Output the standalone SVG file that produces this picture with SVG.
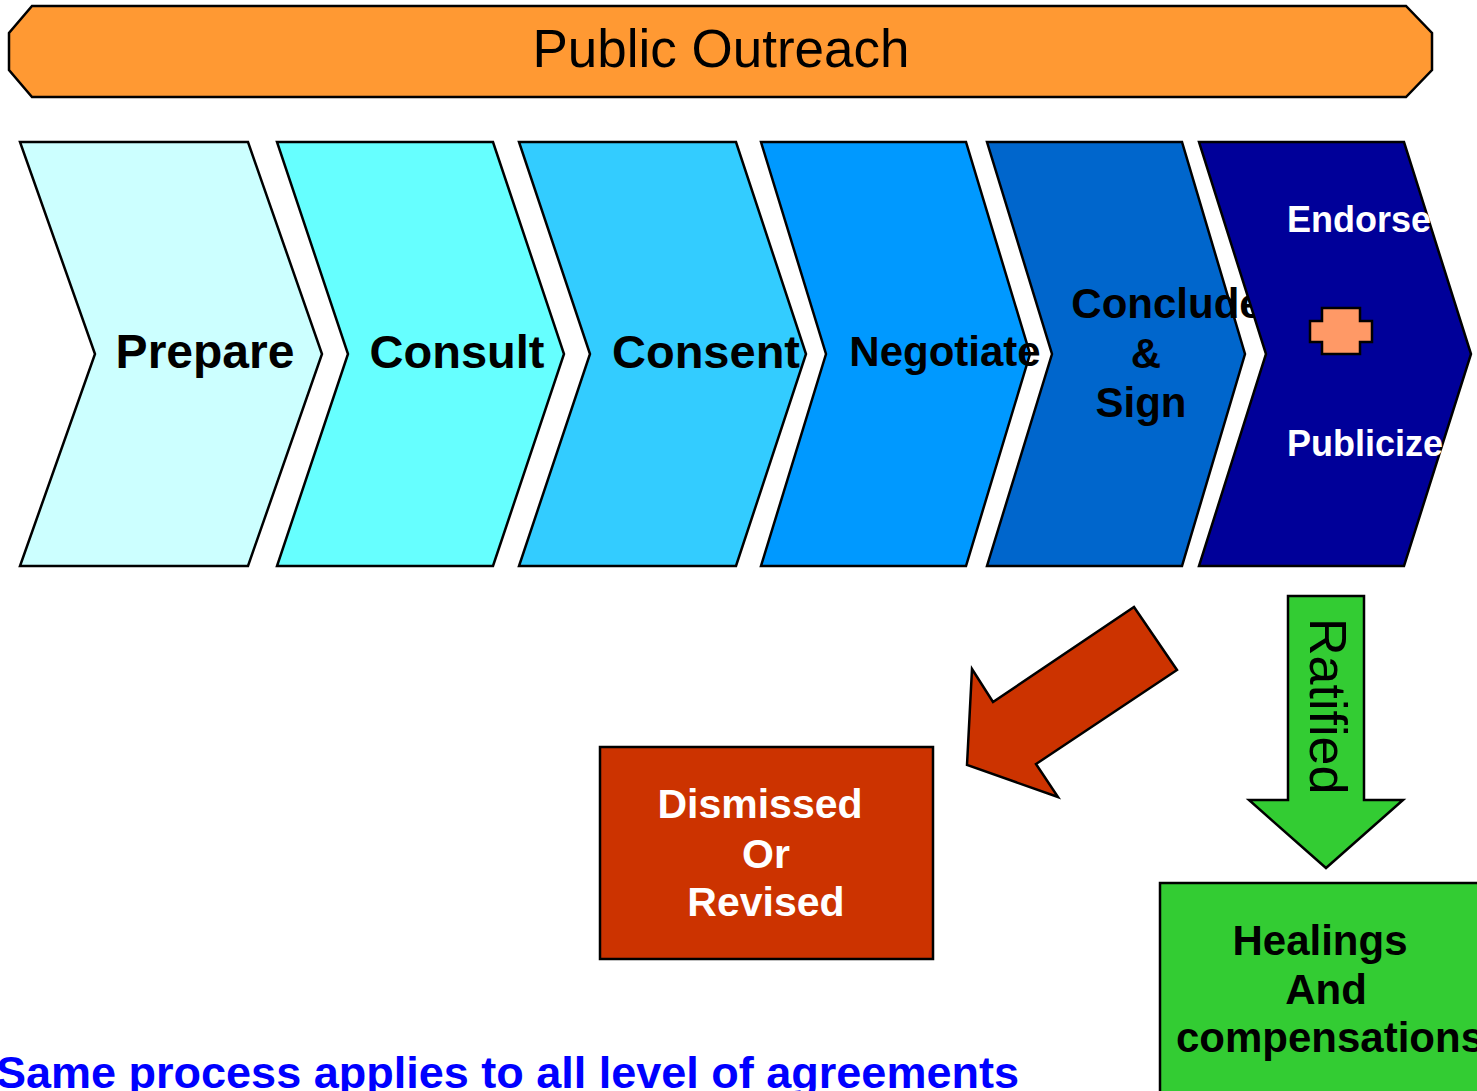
<svg xmlns="http://www.w3.org/2000/svg" width="1477" height="1091" viewBox="0 0 1477 1091">
<style>
.s{stroke:#000;stroke-width:2.5;stroke-linejoin:miter}
.b{font-family:"Liberation Sans",Arial,sans-serif;font-weight:bold}
.n{font-family:"Liberation Sans",Arial,sans-serif}
</style>
<rect width="1477" height="1091" fill="#fff"/>
<g id="banner">
<polygon class="s" fill="#FF9933" points="32,6 1406,6 1432,33 1432,70 1406,97 32,97 9,70 9,33"/>
<text class="n" x="721" y="67" font-size="53" text-anchor="middle">Public Outreach</text>
</g>
<g id="prepare">
<polygon class="s" fill="#CCFFFF" points="20,142 248,142 322,354 248,566 20,566 95,354"/>
<text class="b" x="205" y="368" font-size="48" text-anchor="middle">Prepare</text>
</g>
<g id="consult">
<polygon class="s" fill="#66FFFF" points="277,142 493,142 564,354 493,566 277,566 348,354"/>
<text class="b" x="457" y="368" font-size="47" text-anchor="middle">Consult</text>
</g>
<g id="consent">
<polygon class="s" fill="#33CCFF" points="519,142 736,142 806,354 736,566 519,566 590,354"/>
<text class="b" x="706" y="368" font-size="47" text-anchor="middle">Consent</text>
</g>
<g id="negotiate">
<polygon class="s" fill="#0099FF" points="761,142 966,142 1030,354 966,566 761,566 826,354"/>
<text class="b" x="945" y="366" font-size="42" text-anchor="middle">Negotiate</text>
</g>
<g id="conclude">
<polygon class="s" fill="#0066CC" points="987,142 1182,142 1245,354 1182,566 987,566 1052,354"/>
<text class="b" font-size="42" text-anchor="middle"><tspan x="1167" y="318">Conclude</tspan><tspan x="1146" y="368">&amp;</tspan><tspan x="1141" y="417">Sign</tspan></text>
</g>
<g id="endorse">
<polygon class="s" fill="#000099" points="1199,142 1404,142 1471,354 1404,566 1199,566 1266,354"/>
<text class="b" x="1287" y="232" font-size="36" fill="#fff">Endorse</text>
<polygon class="s" fill="#FF9966" points="1322,308 1360,308 1360,321 1372,321 1372,342 1360,342 1360,354 1322,354 1322,342 1310,342 1310,321 1322,321"/>
<text class="b" x="1287" y="456" font-size="36" fill="#fff">Publicize</text>
</g>
<g id="connectors">
<polygon class="s" fill="#CC3300" points="1134,607 1177,670 1036,764 1058,797 967,765 972,669 993,702"/>
<polygon class="s" fill="#33CC33" points="1288,596 1364,596 1364,800 1403,800 1326,868 1249,800 1288,800"/>
<text class="n" font-size="52" transform="translate(1310,618) rotate(90)">Ratified</text>
</g>
<g id="dismissed">
<rect class="s" x="600" y="747" width="333" height="212" fill="#CC3300"/>
<text class="b" font-size="41" fill="#fff" text-anchor="middle"><tspan x="760" y="818">Dismissed</tspan><tspan x="766" y="868">Or</tspan><tspan x="766" y="916">Revised</tspan></text>
</g>
<g id="healings">
<rect class="s" x="1160" y="883" width="330" height="220" fill="#33CC33"/>
<text class="b" font-size="42" text-anchor="middle"><tspan x="1320" y="955">Healings</tspan><tspan x="1326" y="1004">And</tspan><tspan x="1330" y="1052">compensations</tspan></text>
</g>
<text class="b" x="-4" y="1088" font-size="45" fill="#0000FF">Same process applies to all level of agreements</text>
</svg>
